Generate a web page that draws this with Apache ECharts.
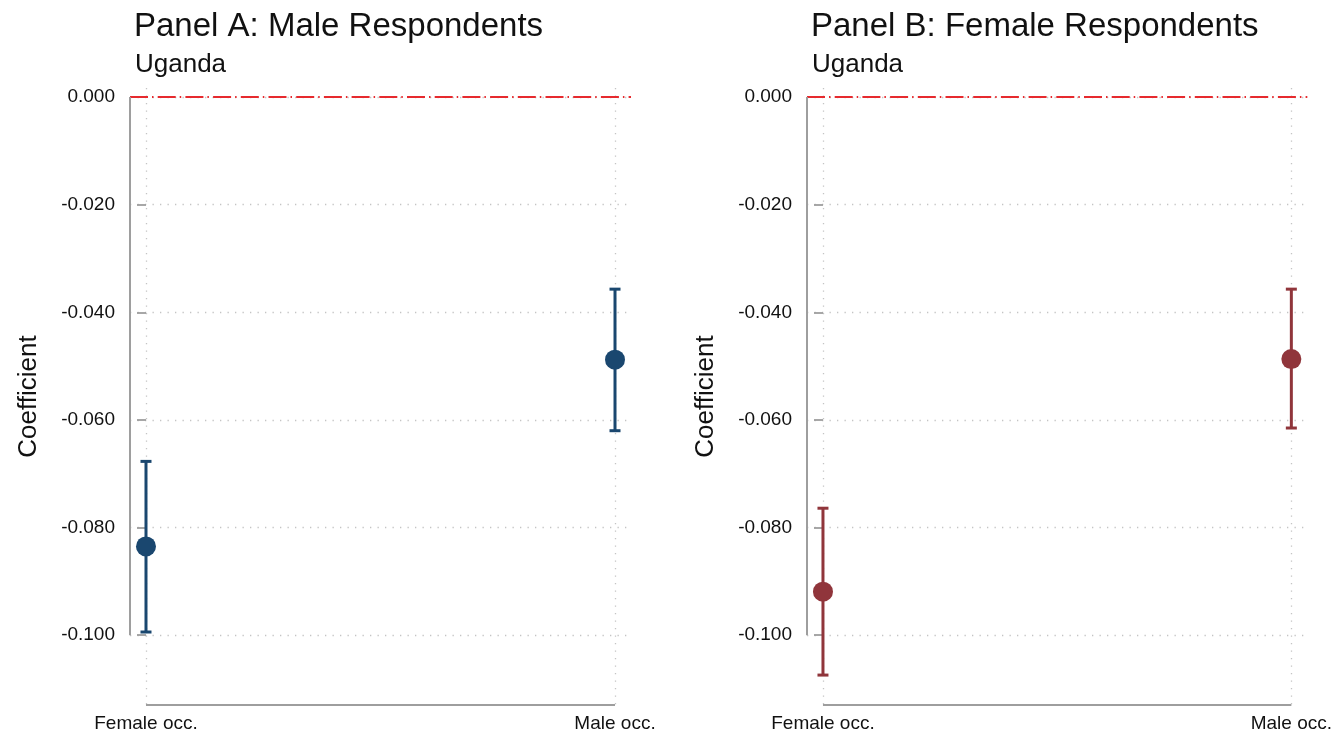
<!DOCTYPE html>
<html>
<head>
<meta charset="utf-8">
<script src="https://cdn.jsdelivr.net/npm/echarts@6/dist/echarts.min.js"></script>
<style>
  html, body { margin: 0; padding: 0; background: #ffffff; }
  #chart { width: 1335px; height: 733px; }
</style>
</head>
<body>
<div id="chart"></div>
<script>
// Occupation categories on the x axis
const categories = ['Female occ.', 'Male occ.'];
// Tick values on the coefficient axis
const yTicks = [0, -0.02, -0.04, -0.06, -0.08, -0.10];

// Panel A: male respondents (point estimate and confidence bounds)
const maleCoef = [-0.0835, -0.0488];
const maleLow = [-0.0994, -0.0620];
const maleHigh = [-0.0677, -0.0357];

// Panel B: female respondents
const femaleCoef = [-0.0919, -0.0487];
const femaleLow = [-0.1074, -0.0615];
const femaleHigh = [-0.0764, -0.0357];

const panelTitles = ['Panel A: Male Respondents', 'Panel B: Female Respondents'];
const subTitle = 'Uganda';

// Plot-region extents (padded around the data range)
const X_MIN = -0.0341, X_MAX = 1.0341;
const Y_MIN = -0.11296, Y_MAX = 0.00167;

const FONT = '"Liberation Sans", Arial, sans-serif';
const AXIS_GRAY = '#9e9e9e';
const GRID_GRAY = '#c4c4c4';
const REF_RED = '#e62a2e';

const panels = [
  { coef: maleCoef, low: maleLow, high: maleHigh, color: '#1a476f', left: 130 },
  { coef: femaleCoef, low: femaleLow, high: femaleHigh, color: '#90353b', left: 807 }
];

const chart = echarts.init(document.getElementById('chart'), null, { renderer: 'canvas' });

const grids = [], xAxes = [], yAxes = [], series = [], titles = [];

panels.forEach((p, i) => {
  grids.push({ left: p.left, top: 88, width: 501, height: 619, containLabel: false });

  xAxes.push({
    type: 'value', gridIndex: i, min: X_MIN, max: X_MAX,
    axisLine: { show: false },
    axisTick: { show: false, customValues: [0, 1] },
    axisLabel: {
      customValues: [0, 1],
      formatter: v => categories[Math.round(v)],
      fontFamily: FONT, fontSize: 19, color: '#111', margin: 9
    },
    splitLine: { show: true, lineStyle: { color: GRID_GRAY, width: 1.3, type: [1.3, 6.2] } }
  });

  yAxes.push({
    type: 'value', gridIndex: i, min: Y_MIN, max: Y_MAX,
    name: 'Coefficient', nameLocation: 'middle', nameGap: 88,
    nameTextStyle: { fontFamily: FONT, fontSize: 26, color: '#111' },
    axisLine: { show: false },
    axisTick: { show: true, customValues: yTicks, length: 9, lineStyle: { color: AXIS_GRAY, width: 1.8 } },
    axisLabel: {
      customValues: yTicks,
      formatter: v => v.toFixed(3),
      fontFamily: FONT, fontSize: 19, color: '#111', margin: 15
    },
    splitLine: { show: true, lineStyle: { color: GRID_GRAY, width: 1.3, type: [1.3, 6.2] } }
  });

  // Red reference line at zero
  series.push({
    type: 'line', xAxisIndex: i, yAxisIndex: i, silent: true, clip: false, symbol: 'none',
    data: [[X_MIN, 0], [X_MAX, 0]],
    lineStyle: { color: REF_RED, width: 1.8, type: [18, 4, 1.5, 4.2] }, z: 3
  });
  // Y axis line spanning the labelled range
  series.push({
    type: 'line', xAxisIndex: i, yAxisIndex: i, silent: true, clip: false, symbol: 'none',
    data: [[X_MIN, yTicks[0]], [X_MIN, yTicks[yTicks.length - 1]]],
    lineStyle: { color: AXIS_GRAY, width: 2 }, z: 4
  });
  // X axis line between the two categories
  series.push({
    type: 'line', xAxisIndex: i, yAxisIndex: i, silent: true, clip: false, symbol: 'none',
    data: [[0, Y_MIN], [categories.length - 1, Y_MIN]],
    lineStyle: { color: AXIS_GRAY, width: 2 }, z: 4
  });

  // Confidence intervals with end caps
  series.push({
    type: 'custom', xAxisIndex: i, yAxisIndex: i, silent: true, z: 5,
    data: categories.map((c, k) => [k, p.low[k], p.high[k]]),
    renderItem: (params, api) => {
      const lo = api.coord([api.value(0), api.value(1)]);
      const hi = api.coord([api.value(0), api.value(2)]);
      const cap = 5.5;
      const st = { stroke: p.color, lineWidth: 3 };
      return {
        type: 'group',
        children: [
          { type: 'line', shape: { x1: lo[0], y1: lo[1], x2: hi[0], y2: hi[1] }, style: st },
          { type: 'line', shape: { x1: lo[0] - cap, y1: lo[1], x2: lo[0] + cap, y2: lo[1] }, style: st },
          { type: 'line', shape: { x1: hi[0] - cap, y1: hi[1], x2: hi[0] + cap, y2: hi[1] }, style: st }
        ]
      };
    }
  });

  // Point estimates
  series.push({
    type: 'scatter', xAxisIndex: i, yAxisIndex: i, silent: true, z: 6,
    symbol: 'circle', symbolSize: 20,
    itemStyle: { color: p.color, opacity: 1 },
    data: categories.map((c, k) => [k, p.coef[k]])
  });

  titles.push({
    text: panelTitles[i], left: p.left + 4, top: 10, padding: 0,
    textStyle: { fontFamily: FONT, fontSize: 33, fontWeight: 'normal', color: '#111' }
  });
  titles.push({
    text: subTitle, left: p.left + 5, top: 52, padding: 0,
    textStyle: { fontFamily: FONT, fontSize: 26, fontWeight: 'normal', color: '#111' }
  });
});

chart.setOption({
  backgroundColor: '#ffffff',
  animation: false,
  title: titles,
  grid: grids,
  xAxis: xAxes,
  yAxis: yAxes,
  series: series
});
</script>
</body>
</html>
